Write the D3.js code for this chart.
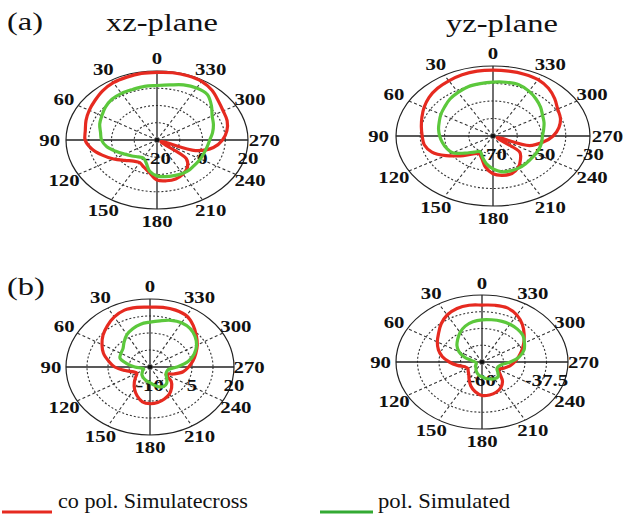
<!DOCTYPE html>
<html>
<head>
<meta charset="utf-8">
<script src="https://cdn.jsdelivr.net/npm/d3@7"></script>
<style>
  body { margin: 0; background: #fff; }
  svg { display: block; }
  text { font-family: "Liberation Serif", "Times New Roman", serif; fill: #111; }
</style>
</head>
<body>
<svg id="chart" width="627" height="520"></svg>
<script>
// sample angles (deg, counter-clockwise from top) shared by every trace
const angles = [0, 10, 20, 30, 40, 50, 60, 70, 80, 90, 100, 110, 120, 130, 140, 150, 160, 170,
  180, 190, 200, 210, 220, 230, 240, 250, 260, 270, 280, 290, 300, 310, 320, 330, 340, 350];
const angleTicks = [0, 30, 60, 90, 120, 150, 180, 210, 240, 270, 300, 330];

// (a) xz-plane, dB
const xzARange = [-20, 20];
const xzATicks = [-20, 0, 20];
const xzACo = [19.2, 19.2, 18.8, 18.4, 17.2, 15.6, 14.4, 13.2, 12, 11.6, 9.2, 5.6, 2, -1.6, -4, -4.8, -3.2, -0.8,
  3.2, 4, 4, 2.8, 0.8, -3.2, -18, -2, 5.2, 8.8, 11.2, 12.8, 13.6, 15.2, 17.6, 19.2, 19.6, 19.6];
const xzACross = [11.6, 11.6, 11.2, 11.2, 10.8, 9.6, 8, 6.8, 5.2, 4.4, 2.4, -0.8, -3.6, -5.6, -7.2, -8, -6, -1.6,
  0.8, 1.6, 2, 2.4, 2.4, 2, 2, 2, 2.4, 3.2, 4.8, 6.4, 8, 11.2, 14.4, 14.8, 14, 12.4];

// (a) yz-plane
const yzARange = [-70, -30];
const yzATicks = [-70, -50, -30];
const yzACo = [-32.4, -32.4, -32.8, -33.6, -34.4, -35.6, -37.2, -38.8, -40, -40.8, -41.2, -43.2, -47.6, -52.4, -56.4, -58.4, -56.4, -52,
  -48.4, -47.2, -47.2, -49.2, -52.4, -55.6, -68, -54, -49.2, -45.2, -42.4, -40.4, -39.2, -36.8, -34.4, -32.8, -32.4, -32.4];
const yzACross = [-39.2, -39.6, -40, -41.2, -42.4, -44, -45.2, -46.4, -47.2, -48, -48.8, -49.6, -50.8, -54.8, -58, -59.6, -57.2, -54,
  -51.2, -49.2, -48.8, -48.8, -49.2, -49.6, -49.6, -49.6, -49.6, -49.6, -48.8, -47.6, -46.4, -44.4, -42.4, -40.4, -38.8, -38.8];

// (b) xz-plane
const xzBRange = [-10, 20];
const xzBTicks = [-10, 5, 20];
const xzBCo = [16.4, 16.7, 16.7, 15.5, 13.7, 11.9, 9.8, 7.7, 5, 2.6, -1, -3.7, -4.6, -3.4, -1.3, 1.1, 3.5, 5.6,
  6.2, 5.9, 5, 3.8, 2, -0.1, -3.4, -1, 2, 3.8, 5.6, 7.4, 9.5, 11.6, 14, 16.1, 16.7, 16.7];
const xzBCross = [9.8, 9.2, 8, 6.5, 4.4, 2.6, 2, 1.4, -1.6, -4.6, -7, -7.6, -7, -6.4, -5.5, -4.9, -4.3, -3.7,
  -3.1, -1.9, -0.7, -0.1, -0.7, -2.2, -3.4, -3.7, -3.4, -0.4, 3.8, 6.8, 9.2, 11, 12.2, 12.5, 11.9, 10.7];

// (b) yz-plane
const yzBRange = [-60, -30];
const yzBTicks = [-60, -37.5];
const yzBCo = [-34.5, -34.2, -34.5, -35.7, -37.8, -40.2, -42, -43.8, -45.9, -48.6, -51.3, -53.7, -54.3, -53.7, -52.8, -51, -48.6, -46.5,
  -45, -45, -45.6, -46.8, -48.9, -51.9, -53.4, -51.9, -50.1, -48.6, -47.1, -45.3, -43.2, -40.8, -38.1, -35.7, -34.2, -34.2];
const yzBCross = [-41.1, -41.7, -42.9, -44.7, -46.8, -48.6, -50.7, -53.4, -56.4, -57.6, -57.9, -57.9, -57.6, -57, -56.7, -55.8, -54.9, -54,
  -53.4, -52.5, -51.9, -51.3, -51.3, -52.8, -54, -54, -53.1, -50.1, -46.8, -44.4, -42.9, -41.4, -40.8, -40.5, -40.5, -40.8];

const legendLabels = ["co pol. Simulatecross", "pol. Simulated"];

const RED = "#e62a20";
const GREEN = "#5cc83c";
const stretch = 1.3; // the figure is squashed: everything is wider than tall

const svg = d3.select("#chart");

function stretchedText(g, x, y, str, sx) {
  return g.append("text")
    .attr("transform", `translate(${x},${y}) scale(${sx || stretch},1)`)
    .text(str);
}

function drawPolar(p) {
  const g = svg.append("g");
  const r = d3.scaleLinear().domain(p.range).range([0, 1]).clamp(true);
  const rad = d3.scaleLinear().domain([0, 360]).range([0, 2 * Math.PI]);
  const px = (deg, k) => p.cx - p.rx * k * Math.sin(rad(deg));
  const py = (deg, k) => p.cy - p.ry * k * Math.cos(rad(deg));

  // dotted rings
  [0.25, 0.5, 0.75].forEach(k => {
    g.append("ellipse")
      .attr("cx", p.cx).attr("cy", p.cy)
      .attr("rx", p.rx * k).attr("ry", p.ry * k)
      .attr("fill", "none")
      .attr("stroke", "#333")
      .attr("stroke-width", 1.1)
      .attr("stroke-dasharray", "2,2");
  });

  // dashed spokes
  angleTicks.filter(a => a % 90 !== 0).forEach(a => {
    g.append("line")
      .attr("x1", p.cx).attr("y1", p.cy)
      .attr("x2", px(a, 1)).attr("y2", py(a, 1))
      .attr("stroke", "#333")
      .attr("stroke-width", 1.1)
      .attr("stroke-dasharray", "3,2.5");
  });

  g.append("ellipse")
    .attr("cx", p.cx).attr("cy", p.cy)
    .attr("rx", p.rx).attr("ry", p.ry)
    .attr("fill", "none")
    .attr("stroke", "#222")
    .attr("stroke-width", 1.2);

  // solid axes
  g.append("line")
    .attr("x1", p.cx - p.rx).attr("x2", p.cx + p.rx)
    .attr("y1", p.cy).attr("y2", p.cy)
    .attr("stroke", "#222").attr("stroke-width", 1.3);
  g.append("line")
    .attr("x1", p.cx).attr("x2", p.cx)
    .attr("y1", p.cy - p.ry).attr("y2", p.cy + p.ry)
    .attr("stroke", "#222").attr("stroke-width", 1.3);

  angleTicks.forEach(a => {
    stretchedText(g, px(a, 1.18), py(a, 1.18), a)
      .attr("text-anchor", "middle")
      .attr("dominant-baseline", "central")
      .style("font-weight", "bold")
      .style("font-size", "16px");
  });

  p.ticks.forEach(v => {
    stretchedText(g, p.cx + p.rx * r(v), p.cy + 18, String(v))
      .attr("text-anchor", "middle")
      .attr("dominant-baseline", "central")
      .style("font-weight", "bold")
      .style("font-size", "16px");
  });

  g.append("circle")
    .attr("cx", p.cx).attr("cy", p.cy).attr("r", 2)
    .attr("fill", "#111");

  const line = d3.line()
    .x(d => px(d[0], r(d[1])))
    .y(d => py(d[0], r(d[1])))
    .curve(d3.curveCatmullRomClosed.alpha(0.5));

  p.series.forEach(s => {
    g.append("path")
      .datum(angles.map((a, i) => [a, s.values[i]]))
      .attr("d", line)
      .attr("fill", "none")
      .attr("stroke", s.color)
      .attr("stroke-width", 3.2)
      .attr("stroke-linejoin", "round");
  });
}

const panels = [
  { cx: 157, cy: 140, rx: 91, ry: 69, range: xzARange, ticks: xzATicks,
    series: [{ values: xzACo, color: RED }, { values: xzACross, color: GREEN }] },
  { cx: 493, cy: 136, rx: 97, ry: 70, range: yzARange, ticks: yzATicks,
    series: [{ values: yzACo, color: RED }, { values: yzACross, color: GREEN }] },
  { cx: 150, cy: 367, rx: 84, ry: 68, range: xzBRange, ticks: xzBTicks,
    series: [{ values: xzBCo, color: RED }, { values: xzBCross, color: GREEN }] },
  { cx: 482, cy: 362, rx: 86, ry: 67, range: yzBRange, ticks: yzBTicks,
    series: [{ values: yzBCo, color: RED }, { values: yzBCross, color: GREEN }] }
];

panels.forEach(drawPolar);

// titles and panel letters
const head = svg.append("g").style("font-size", "25px");
stretchedText(head, 7, 30, "(a)");
stretchedText(head, 7, 295, "(b)");
stretchedText(head, 162, 31, "xz-plane").attr("text-anchor", "middle");
stretchedText(head, 502, 32, "yz-plane").attr("text-anchor", "middle");

// legend
const legend = svg.append("g");
const legendItems = [
  { label: legendLabels[0], color: RED, x1: 2, x2: 52, tx: 58, width: 190 },
  { label: legendLabels[1], color: "#33aa33", x1: 320, x2: 373, tx: 378, width: 132 }
];
legendItems.forEach(it => {
  legend.append("line")
    .attr("x1", it.x1).attr("x2", it.x2)
    .attr("y1", 512).attr("y2", 512)
    .attr("stroke", it.color)
    .attr("stroke-width", 3);
  legend.append("text")
    .attr("x", it.tx).attr("y", 508)
    .attr("textLength", it.width)
    .attr("lengthAdjust", "spacingAndGlyphs")
    .style("font-size", "21px")
    .text(it.label);
});
</script>
</body>
</html>
